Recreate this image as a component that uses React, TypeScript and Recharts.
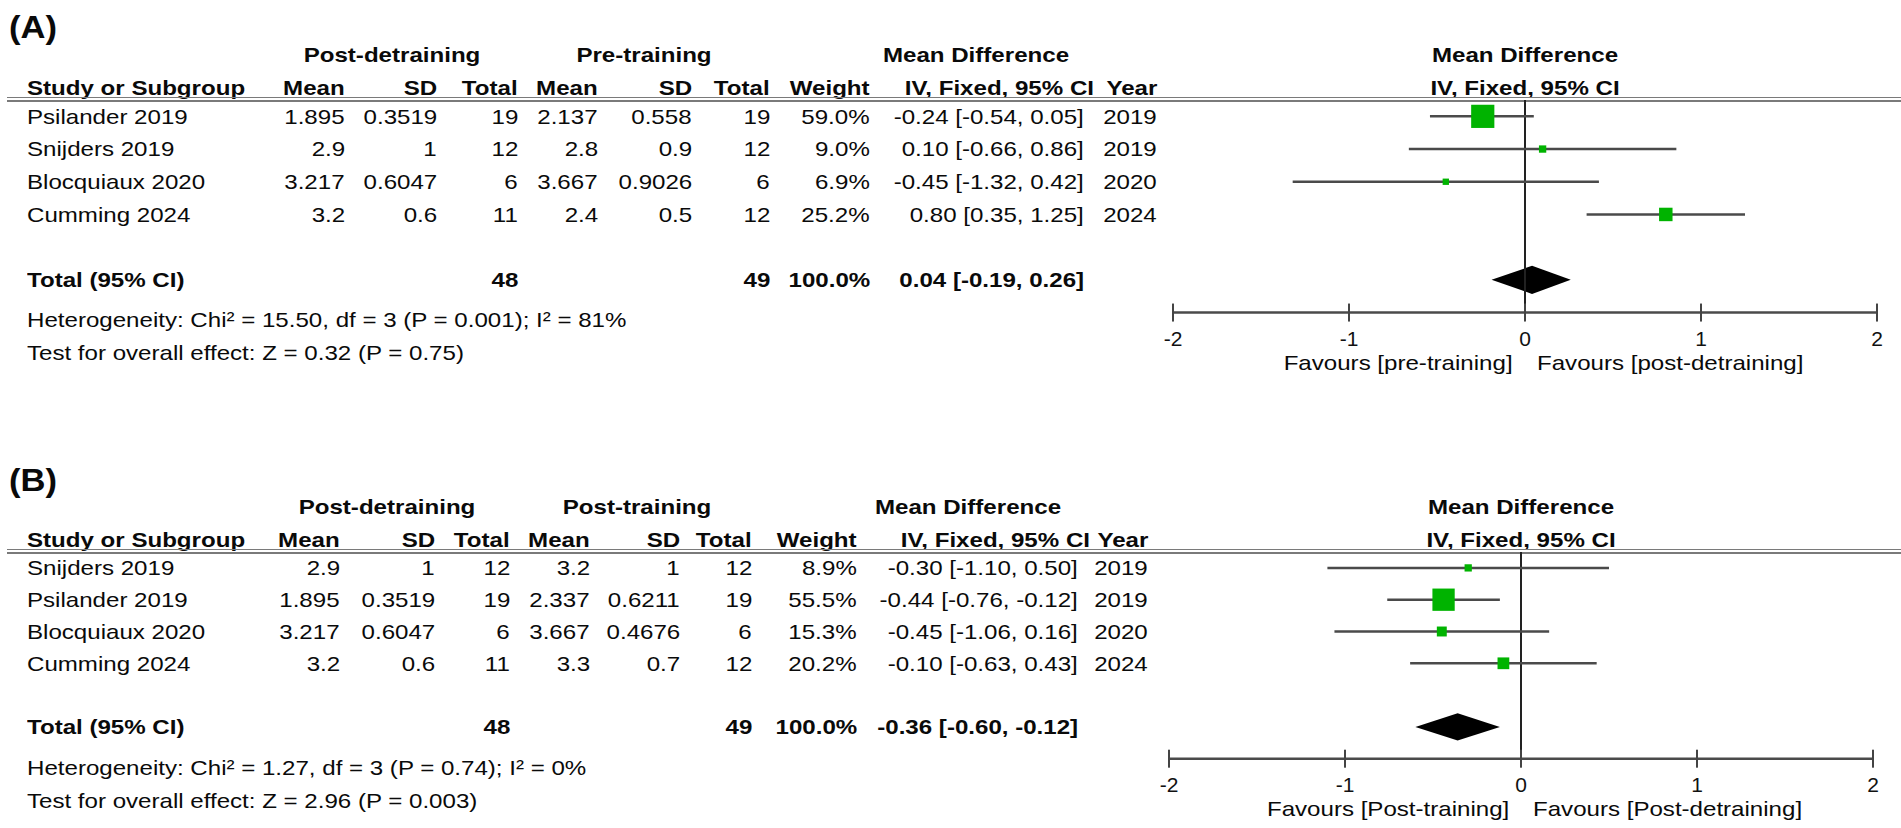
import React from "react";
import {
  ScatterChart,
  Scatter,
  XAxis,
  YAxis,
  ErrorBar,
  ReferenceLine,
  ReferenceArea,
} from "recharts";

// ---- panel A: post-detraining vs pre-training ----
const studiesA = ["Psilander 2019", "Snijders 2019", "Blocquiaux 2020", "Cumming 2024"];
const detMeanA = [1.895, 2.9, 3.217, 3.2];
const detSdA = [0.3519, 1, 0.6047, 0.6];
const detNA = [19, 12, 6, 11];
const preMeanA = [2.137, 2.8, 3.667, 2.4];
const preSdA = [0.558, 0.9, 0.9026, 0.5];
const preNA = [19, 12, 6, 12];
const weightA = [59.0, 9.0, 6.9, 25.2];
const mdA = [-0.24, 0.1, -0.45, 0.8];
const loA = [-0.54, -0.66, -1.32, 0.35];
const hiA = [0.05, 0.86, 0.42, 1.25];
const yearA = [2019, 2019, 2020, 2024];
const totalNA = [48, 49];
const pooledA = [0.04, -0.19, 0.26];
const groupsA = ["Post-detraining", "Pre-training"];
const favoursA = ["Favours [pre-training]", "Favours [post-detraining]"];
const footA = [
  "Heterogeneity: Chi² = 15.50, df = 3 (P = 0.001); I² = 81%",
  "Test for overall effect: Z = 0.32 (P = 0.75)",
];

// ---- panel B: post-detraining vs post-training ----
const studiesB = ["Snijders 2019", "Psilander 2019", "Blocquiaux 2020", "Cumming 2024"];
const detMeanB = [2.9, 1.895, 3.217, 3.2];
const detSdB = [1, 0.3519, 0.6047, 0.6];
const detNB = [12, 19, 6, 11];
const postMeanB = [3.2, 2.337, 3.667, 3.3];
const postSdB = [1, 0.6211, 0.4676, 0.7];
const postNB = [12, 19, 6, 12];
const weightB = [8.9, 55.5, 15.3, 20.2];
const mdB = [-0.3, -0.44, -0.45, -0.1];
const loB = [-1.1, -0.76, -1.06, -0.63];
const hiB = [0.5, -0.12, 0.16, 0.43];
const yearB = [2019, 2019, 2020, 2024];
const totalNB = [48, 49];
const pooledB = [-0.36, -0.6, -0.12];
const groupsB = ["Post-detraining", "Post-training"];
const favoursB = ["Favours [Post-training]", "Favours [Post-detraining]"];
const footB = [
  "Heterogeneity: Chi² = 1.27, df = 3 (P = 0.74); I² = 0%",
  "Test for overall effect: Z = 2.96 (P = 0.003)",
];

const axisTicks = [-2, -1, 0, 1, 2];

const W = 1901;
const H = 828;
const SX = 1.147; // source figure is stretched horizontally
const FONT = "'Liberation Sans', Arial, sans-serif";
const GREEN = "#00b300";

type Anchor = "start" | "middle" | "end";

const T = ({
  x,
  y,
  a = "start",
  s = 21,
  b = false,
  sx = SX,
  children,
}: {
  x: number;
  y: number;
  a?: Anchor;
  s?: number;
  b?: boolean;
  sx?: number;
  children: React.ReactNode;
}) => {
  const st: React.CSSProperties = {
    position: "absolute",
    top: y - s * 0.5,
    fontSize: s,
    lineHeight: `${s}px`,
    fontWeight: b ? 700 : 400,
    whiteSpace: "nowrap",
    color: "#0a0a0a",
  };
  if (a === "start") {
    st.left = x;
    st.transform = `scaleX(${sx})`;
    st.transformOrigin = "0 50%";
  } else if (a === "end") {
    st.right = W - x;
    st.transform = `scaleX(${sx})`;
    st.transformOrigin = "100% 50%";
  } else {
    st.left = x;
    st.transform = `translateX(-50%) scaleX(${sx})`;
    st.transformOrigin = "50% 50%";
  }
  return <div style={st}>{children}</div>;
};

const AxisTick = (props: any) => {
  const { x, y, payload } = props;
  return (
    <g>
      <line x1={x} x2={x} y1={y - 9} y2={y + 9} stroke="#444" strokeWidth={2} />
      <text x={x} y={y + 33} textAnchor="middle" fontSize={21} fill="#111" fontFamily={FONT}>
        {payload.value}
      </text>
    </g>
  );
};

const Square = (props: any) => {
  const { cx, cy, payload } = props;
  const s = 1.5 + 1.25 * Math.pow(payload.w, 0.7);
  return <rect x={cx - s / 2} y={cy - s / 2} width={s} height={s} fill={GREEN} />;
};

const Diamond = (md: number, lo: number, hi: number) => (props: any) => {
  const { x, y, width, height } = props;
  const ax = x + (width * (md - lo)) / (hi - lo);
  const cy = y + height / 2;
  return (
    <polygon
      points={`${x},${cy} ${ax},${y} ${x + width},${cy} ${ax},${y + height}`}
      fill="#000"
    />
  );
};

type Layout = {
  label: string;
  yLabel: number;
  yH1: number;
  yH2: number;
  yLine: number;
  row1: number;
  rowH: number;
  yHet: number;
  yTest: number;
  zeroX: number;
  unit: number;
  cols: number[]; // mean, sd, total, mean, sd, total, weight, ci, year (right edges)
  ciHead: number;
  g1: number;
  g2: number;
  mdHead: number;
  favGap: number;
};

type PanelProps = {
  L: Layout;
  studies: string[];
  m1: number[];
  sd1: number[];
  n1: number[];
  m2: number[];
  sd2: number[];
  n2: number[];
  weight: number[];
  md: number[];
  lo: number[];
  hi: number[];
  year: number[];
  totals: number[];
  pooled: number[];
  groups: string[];
  favours: string[];
  foot: string[];
};

const fmtCI = (m: number, l: number, h: number) =>
  `${m.toFixed(2)} [${l.toFixed(2)}, ${h.toFixed(2)}]`;

const Panel = (p: PanelProps) => {
  const { L } = p;
  const c = L.cols;
  const rowY = (i: number) => L.row1 + i * L.rowH;
  const totalY = rowY(5);
  const axisY = rowY(6);

  const points = p.md.map((v, i) => ({
    x: v,
    y: i + 1,
    err: [v - p.lo[i], p.hi[i] - v],
    w: p.weight[i],
  }));

  const mTop = 20;
  const plotTop = L.row1 - 0.5 * L.rowH;
  const chartTop = plotTop - mTop;
  const axisH = 60;
  const chartH = mTop + 6.5 * L.rowH + axisH;
  const mLeft = 60;
  const mRight = 20;
  const chartLeft = L.zeroX - 2 * L.unit - mLeft;
  const chartW = 4 * L.unit + mLeft + mRight;

  return (
    <>
      <T x={9} y={L.yLabel} s={32} sx={1.08} b>
        {L.label}
      </T>
      <T x={L.g1} y={L.yH1} a="middle" b>
        {p.groups[0]}
      </T>
      <T x={L.g2} y={L.yH1} a="middle" b>
        {p.groups[1]}
      </T>
      <T x={L.mdHead} y={L.yH1} a="middle" b>
        Mean Difference
      </T>
      <T x={L.zeroX} y={L.yH1} a="middle" b>
        Mean Difference
      </T>

      <T x={27} y={L.yH2} b>
        Study or Subgroup
      </T>
      <T x={c[0]} y={L.yH2} a="end" b>Mean</T>
      <T x={c[1]} y={L.yH2} a="end" b>SD</T>
      <T x={c[2]} y={L.yH2} a="end" b>Total</T>
      <T x={c[3]} y={L.yH2} a="end" b>Mean</T>
      <T x={c[4]} y={L.yH2} a="end" b>SD</T>
      <T x={c[5]} y={L.yH2} a="end" b>Total</T>
      <T x={c[6]} y={L.yH2} a="end" b>Weight</T>
      <T x={L.ciHead} y={L.yH2} a="end" b>IV, Fixed, 95% CI</T>
      <T x={c[8]} y={L.yH2} a="end" b>Year</T>
      <T x={L.zeroX} y={L.yH2} a="middle" b>IV, Fixed, 95% CI</T>

      <div style={{ position: "absolute", left: 7, right: 0, top: L.yLine - 2, height: 1.5, background: "#7a7a7a" }} />
      <div style={{ position: "absolute", left: 7, right: 0, top: L.yLine + 1.5, height: 1.5, background: "#7a7a7a" }} />

      {p.studies.map((s, i) => (
        <React.Fragment key={s}>
          <T x={27} y={rowY(i)}>{s}</T>
          <T x={c[0]} y={rowY(i)} a="end">{String(p.m1[i])}</T>
          <T x={c[1]} y={rowY(i)} a="end">{String(p.sd1[i])}</T>
          <T x={c[2]} y={rowY(i)} a="end">{String(p.n1[i])}</T>
          <T x={c[3]} y={rowY(i)} a="end">{String(p.m2[i])}</T>
          <T x={c[4]} y={rowY(i)} a="end">{String(p.sd2[i])}</T>
          <T x={c[5]} y={rowY(i)} a="end">{String(p.n2[i])}</T>
          <T x={c[6]} y={rowY(i)} a="end">{p.weight[i].toFixed(1)}%</T>
          <T x={c[7]} y={rowY(i)} a="end">{fmtCI(p.md[i], p.lo[i], p.hi[i])}</T>
          <T x={c[8]} y={rowY(i)} a="end">{String(p.year[i])}</T>
        </React.Fragment>
      ))}

      <T x={27} y={totalY} b>Total (95% CI)</T>
      <T x={c[2]} y={totalY} a="end" b>{String(p.totals[0])}</T>
      <T x={c[5]} y={totalY} a="end" b>{String(p.totals[1])}</T>
      <T x={c[6]} y={totalY} a="end" b>100.0%</T>
      <T x={c[7]} y={totalY} a="end" b>{fmtCI(p.pooled[0], p.pooled[1], p.pooled[2])}</T>

      <T x={27} y={L.yHet}>{p.foot[0]}</T>
      <T x={27} y={L.yTest}>{p.foot[1]}</T>

      <T x={L.zeroX - L.favGap} y={axisY + 50} a="end">{p.favours[0]}</T>
      <T x={L.zeroX + L.favGap} y={axisY + 50}>{p.favours[1]}</T>

      <div style={{ position: "absolute", left: chartLeft, top: chartTop }}>
        <ScatterChart
          width={chartW}
          height={chartH}
          margin={{ top: mTop, right: mRight, bottom: 0, left: mLeft }}
        >
          <XAxis
            type="number"
            dataKey="x"
            domain={[-2, 2]}
            ticks={axisTicks}
            interval={0}
            allowDataOverflow
            height={axisH}
            tickSize={0}
            tickMargin={0}
            tickLine={false}
            axisLine={{ stroke: "#4a4a4a", strokeWidth: 2.5 }}
            tick={<AxisTick />}
          />
          <YAxis type="number" dataKey="y" domain={[0.5, 7]} reversed hide />
          <ReferenceLine x={0} stroke="#222" strokeWidth={2} ifOverflow="extendDomain" />
          <ReferenceArea
            x1={p.pooled[1]}
            x2={p.pooled[2]}
            y1={6 - 0.43}
            y2={6 + 0.43}
            shape={Diamond(p.pooled[0], p.pooled[1], p.pooled[2])}
          />
          <Scatter data={points} shape={<Square />} isAnimationActive={false}>
            <ErrorBar dataKey="err" direction="x" width={0} stroke="#4a4a4a" strokeWidth={2.5} />
          </Scatter>
        </ScatterChart>
      </div>
    </>
  );
};

const layoutA: Layout = {
  label: "(A)",
  yLabel: 27,
  yH1: 54,
  yH2: 87,
  yLine: 98.5,
  row1: 116,
  rowH: 32.7,
  yHet: 319,
  yTest: 352,
  zeroX: 1525,
  unit: 176,
  cols: [345, 437, 518, 598, 692, 770, 870, 1084, 1157],
  ciHead: 1094,
  g1: 392,
  g2: 644,
  mdHead: 976,
  favGap: 12,
};

const layoutB: Layout = {
  label: "(B)",
  yLabel: 480,
  yH1: 506,
  yH2: 539,
  yLine: 550.5,
  row1: 567.7,
  rowH: 31.8,
  yHet: 767,
  yTest: 800,
  zeroX: 1521,
  unit: 176,
  cols: [340, 435, 510, 590, 680, 752, 857, 1078, 1148],
  ciHead: 1090,
  g1: 387,
  g2: 637,
  mdHead: 968,
  favGap: 12,
};

export default function App() {
  return (
    <div
      style={{
        position: "relative",
        width: W,
        height: H,
        background: "#fff",
        fontFamily: FONT,
        overflow: "hidden",
      }}
    >
      <style>{"body{margin:0}"}</style>
      <Panel
        L={layoutA}
        studies={studiesA}
        m1={detMeanA}
        sd1={detSdA}
        n1={detNA}
        m2={preMeanA}
        sd2={preSdA}
        n2={preNA}
        weight={weightA}
        md={mdA}
        lo={loA}
        hi={hiA}
        year={yearA}
        totals={totalNA}
        pooled={pooledA}
        groups={groupsA}
        favours={favoursA}
        foot={footA}
      />
      <Panel
        L={layoutB}
        studies={studiesB}
        m1={detMeanB}
        sd1={detSdB}
        n1={detNB}
        m2={postMeanB}
        sd2={postSdB}
        n2={postNB}
        weight={weightB}
        md={mdB}
        lo={loB}
        hi={hiB}
        year={yearB}
        totals={totalNB}
        pooled={pooledB}
        groups={groupsB}
        favours={favoursB}
        foot={footB}
      />
    </div>
  );
}
